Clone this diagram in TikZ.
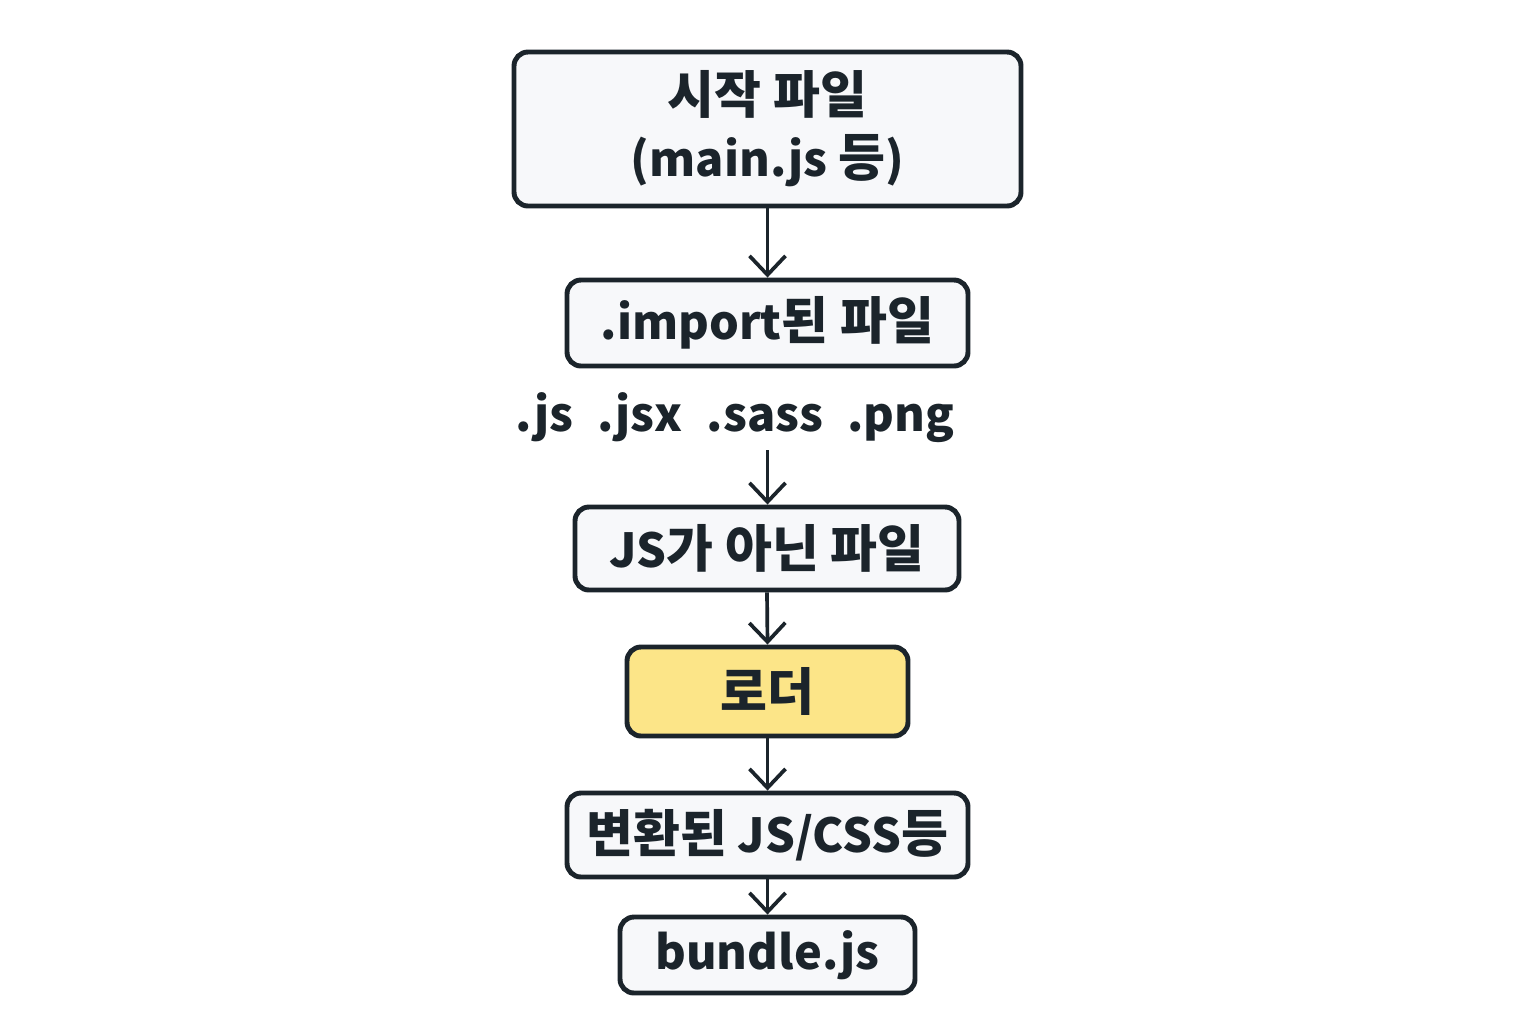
\documentclass[tikz,border=0pt]{standalone}
\usepackage{fontspec}
\setmainfont{Noto Sans CJK KR}[Scale=0.92]
\newfontfamily\kr{Noto Sans CJK KR}
\usetikzlibrary{arrows.meta}
\definecolor{lc}{HTML}{1B242B}
\definecolor{boxfill}{HTML}{F7F8FA}
\definecolor{yel}{HTML}{FCE588}
\begin{document}
\begin{tikzpicture}[
  box/.style={draw=lc, line width=1.4pt, rounded corners=0.14cm, fill=boxfill,
    inner sep=0pt, align=center, text=lc, font=\bfseries\fontsize{14.5}{18}\selectfont},
  arr/.style={draw=lc, line width=1.05pt, -{Straight Barb[length=0.19cm, width=0.36cm, line width=1.05pt]}}
]
\useasboundingbox[fill=white] (0,0) rectangle (15.36,-10.24);
\node[box, minimum width=5.07cm, minimum height=1.54cm] (b1) at (7.675,-1.29)
  {{\kr 시작 파일}\\(main.js {\kr 등})};
\node[box, minimum width=4.01cm, minimum height=0.86cm] (b2) at (7.675,-3.23)
  {.import{\kr 된 파일}};
\node[text=lc, font=\bfseries\fontsize{14.5}{18}\selectfont, inner sep=0pt] (ext) at (7.35,-4.18)
  {.js\hspace{0.24cm}.jsx\hspace{0.24cm}.sass\hspace{0.24cm}.png};
\coordinate (e) at (7.675,-4.5);
\node[box, minimum width=3.84cm, minimum height=0.83cm] (b3) at (7.67,-5.485)
  {JS{\kr 가 아닌 파일}};
\node[box, fill=yel, minimum width=2.81cm, minimum height=0.89cm] (b4) at (7.675,-6.915)
  {{\kr 로더}};
\node[box, minimum width=4.01cm, minimum height=0.84cm] (b5) at (7.675,-8.35)
  {{\kr 변환된} JS/CSS{\kr 등}};
\node[box, minimum width=2.95cm, minimum height=0.76cm] (b6) at (7.675,-9.55)
  {bundle.js};
\draw[arr] (b1.south) -- (b2.north);
\draw[arr] (e) -- (e |- b3.north);
\draw[arr] (b3.south) -- (b4.north);
\draw[arr] (b4.south) -- (b5.north);
\draw[arr] (b5.south) -- (b6.north);
\end{tikzpicture}
\end{document}
